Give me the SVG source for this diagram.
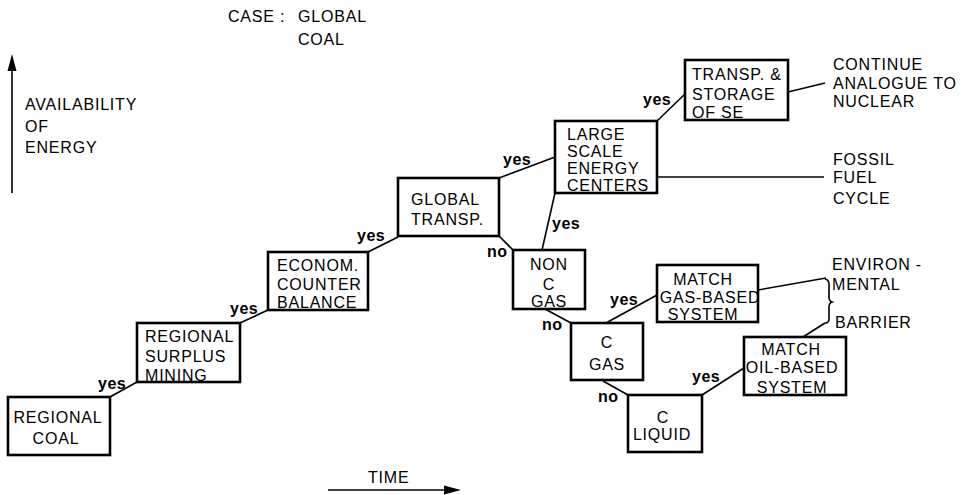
<svg xmlns="http://www.w3.org/2000/svg" width="961" height="495" viewBox="0 0 961 495">
<style>
  text { font-family: "Liberation Sans", Arial, sans-serif; font-size: 16px; fill: #000; letter-spacing: 0.8px; }
  .m { text-anchor: middle; }
  .y { font-size: 16px; font-weight: bold; letter-spacing: 0.5px; }
  .box { fill: #fff; stroke: #000; stroke-width: 2.6; }
  .c { stroke: #000; stroke-width: 1.6; fill: none; }
  .ah { fill: #000; stroke: none; }
</style>
<rect width="961" height="495" fill="#fff"/>

<g id="header">
  <text x="228" y="22">CASE :</text>
  <text x="298" y="22">GLOBAL</text>
  <text x="298" y="45">COAL</text>
</g>

<g id="axes">
  <line class="c" x1="12" y1="193" x2="12" y2="66" stroke-width="2"/>
  <polygon class="ah" points="12,54 16.5,71 7.5,71"/>
  <text x="25" y="110">AVAILABILITY</text>
  <text x="25" y="132">OF</text>
  <text x="25" y="153">ENERGY</text>
  <line class="c" x1="328" y1="490" x2="450" y2="490" stroke-width="2"/>
  <polygon class="ah" points="461,490 444,485.5 444,494.5"/>
  <text x="368" y="483">TIME</text>
</g>

<g id="connectors">
  <line class="c" x1="110" y1="397" x2="137" y2="382"/>
  <line class="c" x1="240" y1="323" x2="268" y2="310"/>
  <line class="c" x1="368" y1="252" x2="398" y2="237"/>
  <line class="c" x1="499" y1="178" x2="555" y2="157"/>
  <polyline class="c" points="499,236 513,250"/>
  <line class="c" x1="542" y1="250" x2="555" y2="193"/>
  <line class="c" x1="657" y1="121" x2="685" y2="94"/>
  <line class="c" x1="788" y1="92" x2="825" y2="83"/>
  <line class="c" x1="657" y1="177" x2="824" y2="177"/>
  <line class="c" x1="545" y1="309" x2="571" y2="323"/>
  <line class="c" x1="606" y1="323" x2="657" y2="295"/>
  <line class="c" x1="603" y1="381" x2="628" y2="395"/>
  <line class="c" x1="702" y1="395" x2="744" y2="368"/>
  <line class="c" x1="758" y1="290" x2="826" y2="278"/>
  <path class="c" d="M825,279 Q829,280 829,284 L829,297 Q829,301 832,302 Q829,303 829,307 L829,319 Q829,323 825,323"/>
  <line class="c" x1="825" y1="323" x2="803" y2="337"/>
  <text class="y" x="98" y="389">yes</text>
  <text class="y" x="230" y="314">yes</text>
  <text class="y" x="357" y="241">yes</text>
  <text class="y" x="503" y="165">yes</text>
  <text class="y" x="643" y="105">yes</text>
  <text class="y" x="552" y="229">yes</text>
  <text class="y" x="610" y="305">yes</text>
  <text class="y" x="692" y="382">yes</text>
  <text class="y" x="487" y="257">no</text>
  <text class="y" x="542" y="330">no</text>
  <text class="y" x="598" y="402">no</text>
</g>

<g id="regional-coal">
  <rect class="box" x="8" y="397" width="102" height="58"/>
  <text class="m" x="58" y="423">REGIONAL</text>
  <text class="m" x="56" y="444">COAL</text>
</g>

<g id="regional-surplus-mining">
  <rect class="box" x="137" y="323" width="103" height="59"/>
  <text x="145" y="342">REGIONAL</text>
  <text x="145" y="362">SURPLUS</text>
  <text x="145" y="381">MINING</text>
</g>

<g id="econom-counter-balance">
  <rect class="box" x="268" y="252" width="100" height="58"/>
  <text x="277" y="271">ECONOM.</text>
  <text x="277" y="290">COUNTER</text>
  <text x="277" y="308">BALANCE</text>
</g>

<g id="global-transp">
  <rect class="box" x="398" y="178" width="101" height="58"/>
  <text x="411" y="205">GLOBAL</text>
  <text x="411" y="225">TRANSP.</text>
</g>

<g id="large-scale">
  <rect class="box" x="555" y="121" width="102" height="72"/>
  <text x="567" y="140">LARGE</text>
  <text x="567" y="157">SCALE</text>
  <text x="567" y="174">ENERGY</text>
  <text x="567" y="191">CENTERS</text>
</g>

<g id="transp-storage">
  <rect class="box" x="685" y="60" width="103" height="60"/>
  <text x="692" y="80">TRANSP. &amp;</text>
  <text x="692" y="100">STORAGE</text>
  <text x="692" y="118">OF  SE</text>
</g>

<g id="continue-nuclear">
  <text x="833" y="70">CONTINUE</text>
  <text x="833" y="89">ANALOGUE TO</text>
  <text x="833" y="107">NUCLEAR</text>
</g>

<g id="fossil-fuel-cycle">
  <text x="833" y="165">FOSSIL</text>
  <text x="833" y="183">FUEL</text>
  <text x="833" y="204">CYCLE</text>
</g>

<g id="non-c-gas">
  <rect class="box" x="513" y="250" width="72" height="59"/>
  <text class="m" x="549" y="270">NON</text>
  <text class="m" x="549" y="290">C</text>
  <text class="m" x="549" y="307">GAS</text>
</g>

<g id="c-gas">
  <rect class="box" x="571" y="323" width="72" height="57"/>
  <text class="m" x="607" y="348">C</text>
  <text class="m" x="607" y="370">GAS</text>
</g>

<g id="match-gas">
  <rect class="box" x="657" y="265" width="101" height="57"/>
  <text class="m" x="703" y="285">MATCH</text>
  <text class="m" x="710" y="303">GAS-BASED</text>
  <text class="m" x="703" y="320">SYSTEM</text>
</g>

<g id="environmental-barrier">
  <text x="832" y="270">ENVIRON -</text>
  <text x="832" y="290">MENTAL</text>
  <text x="835" y="328">BARRIER</text>
</g>

<g id="match-oil">
  <rect class="box" x="744" y="337" width="102" height="58"/>
  <text class="m" x="791" y="355">MATCH</text>
  <text class="m" x="792" y="373">OIL-BASED</text>
  <text class="m" x="792" y="393">SYSTEM</text>
</g>

<g id="c-liquid">
  <rect class="box" x="628" y="395" width="74" height="57"/>
  <text class="m" x="663" y="423">C</text>
  <text class="m" x="662" y="440">LIQUID</text>
</g>
</svg>
